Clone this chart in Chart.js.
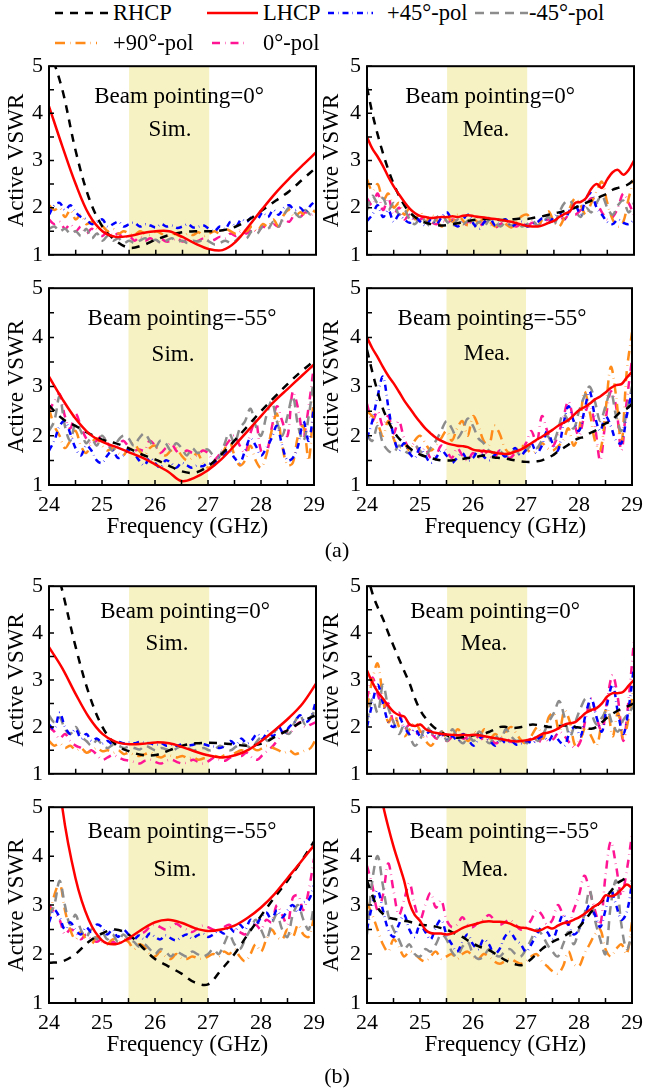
<!DOCTYPE html>
<html>
<head>
<meta charset="utf-8">
<script src="https://cdn.jsdelivr.net/npm/chart.js@4.4.1/dist/chart.umd.min.js"></script>
<style>
  html, body { margin: 0; padding: 0; background: #fff; overflow: hidden; }
  #fig { position: relative; width: 645px; height: 1092px; font-family: 'Liberation Serif', 'Times New Roman', serif; color: #000; }
  #fig canvas { position: absolute; }
  .txt { position: absolute; white-space: nowrap; transform: translate(-50%, -50%); font-size: 23px; line-height: 1; }
  .leg { position: absolute; white-space: nowrap; font-size: 22.5px; line-height: 1; transform: translateY(-50%); }
</style>
</head>
<body>
<div id="fig"></div>
<script>
// ---------- frequency axes ----------
const FREQ = [24,24.1,24.2,24.3,24.4,24.5,24.6,24.7,24.8,24.9,25,25.1,25.2,25.3,25.4,25.5,25.6,25.7,25.8,25.9,26,26.1,26.2,26.3,26.4,26.5,26.6,26.7,26.8,26.9,27,27.1,27.2,27.3,27.4,27.5,27.6,27.7,27.8,27.9,28,28.1,28.2,28.3,28.4,28.5,28.6,28.7,28.8,28.9,29];
const FREQ_SIM = [24,24.25,24.5,24.75,25,25.25,25.5,25.75,26,26.25,26.5,26.75,27,27.25,27.5,27.75,28,28.25,28.5,28.75,29];
const MINOR_X = [24,24.5,25,25.5,26,26.5,27,27.5,28,28.5,29];
const MINOR_Y = [1,1.5,2,2.5,3,3.5,4,4.5,5];
const BAND = [25.5, 27];

// ---------- (a) beam 0°, simulated ----------
const A_SIM0_RHCP = [5.4,4.5,3.2,2.2,1.6,1.3,1.15,1.2,1.32,1.42,1.48,1.5,1.5,1.52,1.6,1.75,1.95,2.15,2.35,2.6,2.85];
const A_SIM0_LHCP = [4.15,3.3,2.5,1.85,1.5,1.38,1.4,1.46,1.5,1.5,1.38,1.23,1.12,1.1,1.28,1.62,1.98,2.32,2.62,2.9,3.17];
const A_SIM0_P45 = [1.85,2.05,2.1,1.95,2.05,1.9,1.8,1.75,1.65,1.7,
  1.75,1.6,1.65,1.7,1.6,1.65,1.68,1.6,1.65,1.62,
  1.58,1.65,1.6,1.62,1.57,1.6,1.65,1.58,1.6,1.62,
  1.55,1.5,1.6,1.55,1.7,1.6,1.75,1.7,1.8,1.75,
  1.9,1.8,1.95,1.85,2.0,2.05,1.95,2.0,1.9,2.05,2.15];
const A_SIM0_M45 = [1.55,1.6,1.5,1.55,1.45,1.5,1.4,1.55,1.35,1.45,
  1.3,1.4,1.3,1.35,1.25,1.3,1.25,1.3,1.35,1.28,
  1.32,1.25,1.3,1.35,1.28,1.3,1.25,1.3,1.28,1.33,
  1.28,1.22,1.25,1.3,1.25,1.3,1.4,1.35,1.5,1.45,
  1.6,1.55,1.7,1.6,1.85,2.0,1.9,1.8,1.95,1.85,1.95];
const A_SIM0_P90 = [2.05,1.95,2.0,1.8,1.95,1.75,1.85,1.65,1.7,1.55,
  1.6,1.5,1.55,1.45,1.5,1.45,1.42,1.5,1.45,1.42,
  1.5,1.45,1.4,1.45,1.42,1.38,1.45,1.42,1.48,1.4,
  1.45,1.5,1.45,1.55,1.5,1.45,1.55,1.5,1.6,1.5,
  1.65,1.6,1.75,1.6,1.85,1.95,1.8,1.9,1.85,1.95,1.9];
const A_SIM0_P0 = [1.75,1.65,1.7,1.55,1.65,1.5,1.6,1.45,1.55,1.45,
  1.4,1.5,1.4,1.45,1.35,1.4,1.3,1.38,1.3,1.35,
  1.28,1.33,1.28,1.3,1.35,1.28,1.32,1.27,1.3,1.35,
  1.3,1.32,1.38,1.35,1.45,1.4,1.5,1.45,1.55,1.48,
  1.6,1.55,1.65,1.6,1.75,1.7,1.85,1.8,1.9,1.85,1.9];

// ---------- (a) beam 0°, measured ----------
const A_MEA0_RHCP = [4.55,4.0,3.55,3.15,2.8,2.5,2.25,2.05,1.9,1.8,
  1.72,1.68,1.65,1.63,1.62,1.63,1.65,1.67,1.7,1.72,
  1.74,1.75,1.76,1.76,1.75,1.74,1.74,1.75,1.76,1.77,
  1.76,1.78,1.8,1.82,1.85,1.88,1.9,1.93,1.97,2.0,
  2.05,2.1,2.15,2.2,2.25,2.3,2.38,2.42,2.45,2.5,2.6];
const A_MEA0_LHCP = [3.5,3.25,3.08,2.88,2.65,2.45,2.28,2.12,1.98,1.88,
  1.82,1.8,1.78,1.79,1.8,1.8,1.82,1.8,1.83,1.84,
  1.82,1.8,1.79,1.77,1.76,1.74,1.72,1.7,1.67,1.64,
  1.61,1.6,1.6,1.63,1.68,1.72,1.8,1.87,1.92,2.1,
  2.12,2.2,2.4,2.5,2.42,2.6,2.75,2.8,2.7,2.8,3.0];
const A_MEA0_P45 = [1.72,1.85,2.05,1.8,1.95,1.7,1.85,1.75,1.68,1.8,
  1.7,1.62,1.75,1.65,1.8,1.9,1.7,1.6,1.75,1.85,
  1.65,1.55,1.7,1.78,1.62,1.7,1.75,1.6,1.66,1.7,
  1.6,1.65,1.7,1.78,1.68,1.8,1.9,1.75,1.95,2.05,
  1.85,2.2,2.3,2.0,1.85,1.7,1.65,1.75,1.68,1.65,1.75];
const A_MEA0_M45 = [1.95,2.25,2.1,2.2,1.95,2.1,1.85,1.95,1.75,1.65,
  1.8,1.7,1.6,1.78,1.85,1.7,1.6,1.75,1.65,1.72,
  1.6,1.7,1.62,1.75,1.68,1.6,1.7,1.62,1.68,1.6,
  1.65,1.72,1.62,1.7,1.8,1.65,1.9,2.1,2.15,1.95,
  1.8,2.0,1.9,2.1,2.25,2.0,1.85,2.05,2.15,1.9,2.1];
const A_MEA0_P90 = [2.6,2.35,2.5,2.15,2.3,2.0,2.1,1.85,2.0,1.75,
  1.9,1.7,1.85,1.75,1.6,1.8,1.7,1.85,1.72,1.62,
  1.75,1.68,1.8,1.7,1.6,1.72,1.65,1.58,1.7,1.82,
  1.85,1.7,1.62,1.78,1.92,1.7,1.6,1.8,2.0,2.2,
  2.05,1.85,2.1,2.35,2.55,2.1,1.75,1.6,1.7,2.2,2.6];
const A_MEA0_P0 = [2.2,2.05,2.3,1.95,2.2,1.85,2.0,1.75,1.85,1.7,
  1.75,1.8,1.7,1.65,1.72,1.68,1.75,1.7,1.62,1.7,
  1.65,1.6,1.7,1.65,1.58,1.65,1.7,1.65,1.6,1.67,
  1.62,1.68,1.65,1.7,1.75,1.7,1.8,1.75,1.9,1.85,
  1.95,2.05,2.2,2.1,1.9,1.75,1.8,2.0,2.3,2.1,1.85];

// ---------- (a) beam -55°, simulated ----------
const A_SIM55_RHCP = [2.62,2.35,2.2,2.05,1.92,1.85,1.75,1.62,1.52,1.4,1.28,1.25,1.38,1.62,1.9,2.2,2.5,2.78,3.05,3.3,3.52];
const A_SIM55_LHCP = [3.2,2.75,2.35,2.05,1.88,1.78,1.67,1.56,1.42,1.27,1.08,1.15,1.3,1.52,1.8,2.1,2.4,2.7,2.95,3.2,3.45];
const A_SIM55_P45 = [1.7,1.9,2.2,2.3,2.05,1.75,1.6,1.8,1.7,1.5,
  1.45,1.6,1.7,1.55,1.6,1.72,1.65,1.5,1.4,1.55,
  1.45,1.35,1.5,1.45,1.35,1.45,1.4,1.35,1.4,1.38,
  1.45,1.4,1.55,1.6,1.7,1.55,1.45,1.7,1.95,1.8,
  1.6,1.75,1.95,2.2,1.8,1.5,1.55,1.8,2.3,1.9,2.6];
const A_SIM55_M45 = [2.1,2.3,2.8,2.2,1.9,2.25,2.1,1.85,1.95,1.8,
  2.0,1.85,1.7,1.9,2.0,1.95,1.8,1.95,2.05,1.9,
  1.75,1.9,1.85,1.7,1.85,1.75,1.6,1.75,1.65,1.7,
  1.72,1.6,1.55,1.8,2.05,1.85,2.15,2.3,2.55,2.2,
  2.0,2.4,2.7,2.3,2.0,2.4,2.8,2.2,1.9,2.4,3.2];
const A_SIM55_P90 = [2.55,2.2,2.0,1.75,1.9,2.1,1.8,1.65,1.85,1.95,
  1.8,1.7,1.75,1.65,1.6,1.75,1.85,1.7,1.6,1.75,
  1.8,1.65,1.6,1.7,1.75,1.6,1.5,1.55,1.65,1.45,
  1.35,1.4,1.5,1.7,1.9,1.6,1.4,1.5,1.8,1.5,
  1.35,1.6,2.1,2.45,1.8,1.4,1.45,2.0,2.2,1.5,2.9];
const A_SIM55_P0 = [2.5,2.7,2.85,2.4,2.15,2.45,2.2,1.95,1.85,1.9,
  2.0,1.85,1.75,1.8,1.9,1.78,1.7,1.72,1.7,1.9,
  1.8,1.65,1.75,1.85,1.7,1.6,1.7,1.65,1.6,1.7,
  1.65,1.5,1.6,1.75,1.9,2.0,1.8,1.65,2.05,2.3,
  1.7,1.65,2.15,2.6,2.3,2.0,2.9,2.55,2.0,2.6,3.45];

// ---------- (a) beam -55°, measured ----------
const A_MEA55_RHCP = [3.75,3.3,2.9,2.55,2.3,2.1,1.95,1.85,1.75,1.68,
  1.62,1.58,1.55,1.52,1.5,1.5,1.5,1.52,1.53,1.55,
  1.56,1.58,1.6,1.58,1.56,1.55,1.54,1.52,1.5,1.48,
  1.47,1.47,1.48,1.5,1.55,1.6,1.68,1.75,1.82,1.9,
  1.95,1.98,2.05,2.1,2.18,2.25,2.3,2.4,2.5,2.55,2.65];
const A_MEA55_LHCP = [4.0,3.78,3.6,3.4,3.22,3.07,2.9,2.72,2.57,2.42,
  2.28,2.15,2.05,1.96,1.9,1.85,1.82,1.8,1.79,1.77,
  1.72,1.7,1.69,1.68,1.66,1.64,1.63,1.64,1.68,1.72,
  1.78,1.85,1.92,1.98,2.05,2.12,2.2,2.26,2.32,2.42,
  2.52,2.58,2.65,2.74,2.8,2.88,2.97,3.03,3.05,3.18,3.3];
const A_MEA55_P45 = [1.95,2.3,2.8,3.2,2.6,2.0,1.7,1.85,1.65,1.55,
  1.75,1.6,1.45,1.55,1.7,1.6,1.45,1.55,1.65,1.5,
  1.55,1.7,1.58,1.5,1.6,1.7,1.58,1.65,1.75,1.6,
  1.72,1.85,1.65,1.8,2.1,1.85,1.7,2.2,2.6,2.3,
  2.1,2.5,2.9,2.4,2.1,2.4,2.2,1.9,1.85,2.4,2.9];
const A_MEA55_M45 = [2.0,1.9,2.2,1.85,1.7,1.65,1.8,1.7,1.65,1.8,
  1.7,1.6,1.75,1.9,2.1,2.3,2.15,1.95,2.1,2.35,
  2.2,1.95,1.85,1.7,1.65,1.7,1.6,1.65,1.7,1.6,
  1.7,1.8,1.75,1.9,2.0,1.85,2.1,2.45,2.3,2.15,
  2.5,2.8,3.0,2.7,2.3,2.6,2.9,2.4,2.1,2.5,3.0];
const A_MEA55_P90 = [2.5,2.4,2.25,2.0,2.3,1.95,1.75,1.85,1.7,1.9,
  2.0,1.85,1.7,1.8,1.95,2.1,1.9,2.15,2.3,2.0,
  2.4,2.2,1.9,1.8,2.2,2.05,1.75,1.65,1.7,1.8,
  1.75,1.65,1.7,1.85,1.75,1.7,1.78,1.9,2.15,1.8,
  2.1,2.9,2.5,1.9,1.7,2.5,3.4,2.8,1.85,3.3,4.1];
const A_MEA55_P0 = [2.65,2.3,2.5,2.2,2.4,2.05,2.3,1.95,1.75,1.85,
  1.65,1.75,1.55,1.6,1.8,1.7,1.55,1.75,1.6,1.5,
  1.65,1.55,1.7,1.6,1.55,1.7,1.6,1.55,1.65,1.7,
  1.85,2.1,1.85,2.4,2.1,1.8,2.0,2.35,2.7,2.3,
  2.0,2.4,2.65,2.2,1.5,2.3,2.9,2.6,1.7,2.7,3.55];

// ---------- (b) beam 0°, simulated ----------
const B_SIM0_RHCP = [6.0,4.9,3.7,2.7,2.0,1.62,1.48,1.4,1.4,1.5,1.6,1.65,1.66,1.65,1.62,1.6,1.65,1.8,1.95,2.12,2.25];
const B_SIM0_LHCP = [3.7,3.25,2.7,2.2,1.85,1.68,1.63,1.64,1.67,1.65,1.57,1.47,1.39,1.35,1.4,1.52,1.72,1.95,2.2,2.5,2.92];
const B_SIM0_P45 = [2.05,1.95,2.3,2.0,1.85,1.95,1.75,1.85,1.7,1.75,
  1.65,1.7,1.62,1.68,1.65,1.67,1.65,1.68,1.66,1.65,
  1.62,1.65,1.6,1.62,1.6,1.63,1.6,1.62,1.65,1.63,
  1.6,1.58,1.55,1.6,1.7,1.62,1.75,1.65,1.72,1.85,
  1.75,1.9,1.8,2.0,1.85,2.0,2.1,2.25,2.1,2.2,2.55];
const B_SIM0_M45 = [2.25,2.1,2.2,1.95,1.85,2.0,1.8,1.7,1.6,1.72,
  1.62,1.55,1.62,1.6,1.55,1.58,1.55,1.52,1.6,1.55,
  1.5,1.55,1.52,1.48,1.55,1.6,1.55,1.5,1.52,1.55,
  1.5,1.52,1.6,1.55,1.5,1.58,1.65,1.6,1.55,1.7,
  1.8,1.7,1.85,2.0,1.9,1.85,2.1,2.25,2.05,2.2,2.4];
const B_SIM0_P90 = [1.7,1.6,1.65,1.55,1.6,1.5,1.55,1.45,1.5,1.55,
  1.48,1.5,1.45,1.5,1.42,1.45,1.4,1.38,1.42,1.45,
  1.38,1.35,1.4,1.38,1.35,1.38,1.33,1.35,1.3,1.33,
  1.35,1.38,1.35,1.4,1.38,1.45,1.5,1.48,1.55,1.5,
  1.55,1.6,1.55,1.5,1.45,1.5,1.42,1.45,1.5,1.55,1.75];
const B_SIM0_P0 = [2.0,1.9,1.75,1.85,1.7,1.6,1.55,1.45,1.5,1.4,
  1.3,1.35,1.4,1.35,1.3,1.28,1.25,1.22,1.28,1.3,
  1.25,1.22,1.28,1.3,1.25,1.22,1.25,1.3,1.25,1.22,
  1.28,1.35,1.3,1.28,1.35,1.4,1.38,1.45,1.35,1.3,
  1.4,1.5,1.6,1.75,1.9,1.85,2.0,2.1,2.0,2.05,2.1];

// ---------- (b) beam 0°, measured ----------
const B_MEA0_RHCP = [5.3,4.85,4.55,4.3,4.0,3.72,3.45,3.18,2.92,2.6,
  2.35,2.18,2.05,1.95,1.88,1.82,1.78,1.77,1.78,1.8,
  1.82,1.84,1.86,1.9,1.95,2.0,2.0,1.98,1.98,2.0,
  2.03,2.05,2.04,2.02,2.0,2.0,2.02,2.03,2.02,2.0,
  1.98,1.97,1.96,2.0,2.1,2.2,2.28,2.35,2.4,2.45,2.5];
const B_MEA0_LHCP = [3.2,2.95,2.75,2.6,2.45,2.32,2.25,2.22,2.05,2.02,
  2.05,1.95,1.9,1.87,1.85,1.84,1.83,1.82,1.83,1.82,
  1.83,1.82,1.8,1.78,1.76,1.74,1.72,1.7,1.69,1.7,
  1.72,1.74,1.8,1.86,1.88,1.92,1.98,2.05,2.08,2.1,
  2.2,2.3,2.36,2.4,2.5,2.65,2.72,2.72,2.75,2.88,3.0];
const B_MEA0_P45 = [2.0,2.5,2.9,2.5,2.1,2.0,2.2,2.0,1.85,1.95,
  1.8,1.85,1.9,1.8,1.85,1.75,1.8,1.7,1.85,1.72,
  1.6,1.75,1.8,1.7,1.6,1.75,1.65,1.7,1.62,1.65,
  1.7,1.65,1.75,1.8,1.7,1.85,1.7,1.6,1.9,2.0,
  1.8,2.3,2.6,2.2,1.9,2.5,2.9,2.3,1.85,2.4,3.3];
const B_MEA0_M45 = [2.1,2.6,2.3,2.9,2.4,2.1,1.85,2.05,1.8,1.6,
  1.75,2.0,1.9,1.75,1.9,1.7,1.95,1.75,1.65,1.8,
  1.7,1.9,1.75,1.65,1.82,1.7,1.95,1.8,1.7,1.75,
  1.65,1.8,1.7,1.85,2.1,2.3,2.55,2.2,1.8,2.1,
  2.4,2.6,2.3,2.05,2.2,2.35,2.05,1.9,2.15,2.3,2.45];
const B_MEA0_P90 = [2.4,3.0,3.35,2.6,2.1,2.3,2.0,1.8,1.95,2.1,
  1.9,1.7,1.6,1.75,1.9,1.75,1.8,1.95,1.8,1.7,
  1.9,1.8,1.95,1.75,1.85,1.78,1.9,2.0,1.85,1.7,
  1.65,1.85,2.0,1.75,2.2,2.3,1.9,2.35,2.1,1.6,
  1.75,2.0,1.8,1.6,2.1,2.4,1.8,2.3,1.75,2.2,2.9];
const B_MEA0_P0 = [2.6,3.05,2.7,2.4,2.5,2.1,2.3,1.95,2.05,1.85,
  1.9,1.8,1.85,1.75,1.8,1.7,1.8,1.85,1.75,1.78,
  1.72,1.8,1.7,1.75,1.65,1.7,1.75,1.68,1.72,1.65,
  1.7,1.75,1.65,1.8,1.7,1.75,1.9,1.8,1.65,1.55,
  1.7,2.2,2.6,2.2,1.9,2.6,3.1,2.6,1.7,2.6,3.85];

// ---------- (b) beam -55°, simulated ----------
const B_SIM55_RHCP = [1.82,1.85,2.0,2.25,2.42,2.5,2.4,2.15,1.9,1.75,1.6,1.42,1.38,1.68,2.0,2.4,2.78,3.15,3.5,3.88,4.3];
const B_SIM55_LHCP = [7.5,5.0,3.55,2.7,2.28,2.2,2.32,2.5,2.65,2.7,2.64,2.53,2.47,2.5,2.58,2.74,2.95,3.22,3.55,3.88,4.22];
const B_SIM55_P45 = [2.65,2.9,2.75,2.5,2.65,2.5,2.4,2.55,2.45,2.6,
  2.55,2.4,2.5,2.35,2.5,2.4,2.3,2.38,2.3,2.42,
  2.35,2.3,2.38,2.32,2.28,2.35,2.4,2.32,2.38,2.42,
  2.35,2.4,2.48,2.42,2.55,2.45,2.6,2.5,2.7,2.6,
  2.75,2.85,2.7,2.9,2.75,2.9,3.0,2.85,3.05,3.1,3.4];
const B_SIM55_M45 = [2.8,3.0,3.5,3.0,2.6,2.8,2.5,2.35,2.5,2.3,
  2.45,2.3,2.4,2.25,2.4,2.3,2.25,2.15,2.2,2.1,
  2.0,2.1,2.05,1.95,2.05,2.0,1.95,2.05,2.0,1.95,
  2.0,2.1,2.0,2.2,2.4,2.2,2.1,2.3,2.5,2.7,
  2.5,2.3,2.6,2.8,2.5,2.35,2.8,3.0,2.7,2.5,3.0];
const B_SIM55_P90 = [2.75,3.2,3.45,2.9,2.5,2.3,2.45,2.3,2.2,2.35,
  2.25,2.2,2.3,2.25,2.3,2.25,2.1,2.2,2.15,2.0,
  1.95,2.05,1.95,1.9,2.0,1.92,1.9,1.95,1.92,1.9,
  1.95,2.0,1.95,2.05,2.0,2.1,1.95,1.85,2.0,2.2,
  2.05,2.3,2.5,2.35,2.3,2.5,2.35,2.6,2.4,2.35,2.75];
const B_SIM55_P0 = [3.0,2.85,2.7,2.4,2.5,2.45,2.3,2.4,2.3,2.25,
  2.3,2.2,2.25,2.2,2.25,2.3,2.35,2.4,2.45,2.55,
  2.6,2.55,2.5,2.55,2.62,2.55,2.5,2.45,2.52,2.58,
  2.55,2.5,2.48,2.55,2.6,2.5,2.45,2.4,2.5,2.6,
  2.5,2.7,2.65,3.0,2.8,2.6,3.15,3.2,2.9,3.3,3.95];

// ---------- (b) beam -55°, measured ----------
const B_MEA55_RHCP = [3.5,3.2,2.95,2.82,2.75,2.72,2.7,2.68,2.66,2.63,
  2.6,2.59,2.58,2.56,2.53,2.5,2.45,2.4,2.35,2.28,
  2.22,2.16,2.12,2.08,2.02,1.95,1.88,1.83,1.79,1.77,
  1.82,1.9,2.0,2.1,2.18,2.25,2.3,2.35,2.42,2.48,
  2.55,2.68,2.82,2.95,3.05,3.15,3.28,3.42,3.5,3.55,3.5];
const B_MEA55_LHCP = [7.0,6.3,5.6,5.05,4.6,4.2,3.85,3.5,3.05,2.8,
  2.68,2.5,2.43,2.42,2.42,2.4,2.42,2.47,2.53,2.57,
  2.6,2.63,2.66,2.67,2.66,2.66,2.65,2.62,2.57,2.54,
  2.53,2.5,2.47,2.5,2.55,2.52,2.58,2.63,2.65,2.7,
  2.75,2.82,2.9,2.98,3.05,3.2,3.18,3.22,3.32,3.42,3.35];
const B_MEA55_P45 = [2.5,3.0,3.3,2.9,2.5,2.35,2.6,2.8,2.5,2.35,
  2.6,2.45,2.3,2.55,2.7,2.4,2.2,2.05,2.25,2.4,
  2.2,2.1,2.3,2.2,2.0,2.1,2.35,2.45,2.3,2.2,
  2.05,2.2,2.4,2.55,2.45,2.3,2.55,2.8,2.6,2.4,
  2.5,2.75,3.0,2.8,2.55,2.9,3.3,3.0,2.7,2.85,3.45];
const B_MEA55_M45 = [2.4,3.5,4.0,3.4,2.8,2.5,2.3,2.1,2.2,2.0,
  1.95,2.1,2.05,2.2,2.4,2.3,2.05,1.95,2.15,2.25,
  2.0,1.9,1.95,2.1,2.0,1.95,2.05,2.1,2.0,1.95,
  2.1,2.3,2.5,2.4,2.2,2.05,1.95,2.2,2.45,2.2,
  2.5,2.8,3.3,2.7,2.3,2.0,3.0,3.5,2.6,2.1,2.4];
const B_MEA55_P90 = [3.05,2.8,2.5,2.2,2.05,2.3,2.15,1.95,2.05,2.0,
  1.9,1.85,1.95,2.05,1.9,1.95,2.0,1.9,2.0,2.05,
  1.95,1.9,2.0,1.95,1.85,1.8,1.85,1.9,1.85,1.8,
  1.85,1.95,2.0,1.85,1.75,1.65,1.6,1.75,2.05,1.8,
  1.75,2.0,2.2,2.4,2.5,2.1,1.95,2.1,2.2,2.0,2.65];
const B_MEA55_P0 = [3.8,3.4,2.9,3.2,3.85,3.3,2.8,3.1,3.45,3.0,
  2.7,3.0,3.25,2.95,3.1,2.7,2.55,2.6,2.75,2.6,
  2.55,2.65,2.7,2.8,2.7,2.6,2.65,2.7,2.6,2.5,
  2.55,2.7,2.9,2.8,2.6,2.7,3.0,2.8,2.6,2.9,
  3.2,3.6,3.3,2.9,2.6,3.6,4.3,3.8,3.2,3.7,4.45];

// ---------- styles (drawing order: first = on top) ----------
const FONT = "'Liberation Serif', 'Times New Roman', serif";
const BAND_COLOR = '#f6f2c4';
const STYLES = [
  { label: 'LHCP',     color: '#ff0000', dash: [] },
  { label: 'RHCP',     color: '#000000', dash: [8, 7] },
  { label: '+45°-pol', color: '#0000ff', dash: [6, 4, 0.5, 4] },
  { label: '-45°-pol', color: '#8c8c8c', dash: [9, 6] },
  { label: '+90°-pol', color: '#ff8c1a', dash: [10, 5, 0.5, 5] },
  { label: '0°-pol',   color: '#ff1493', dash: [8, 5, 0.5, 5] },
];

const PANELS = [
  { L: 49,  T: 63,  H: 195, xLab: false, beam: 'Beam pointing=0°',   kind: 'Sim.', pos: [130, 32, 121, 65], cx: FREQ_SIM,
    ys: [A_SIM0_LHCP, A_SIM0_RHCP, A_SIM0_P45, A_SIM0_M45, A_SIM0_P90, A_SIM0_P0] },
  { L: 367, T: 63,  H: 195, xLab: false, beam: 'Beam pointing=0°',   kind: 'Mea.', pos: [123, 32, 119, 65], cx: FREQ,
    ys: [A_MEA0_LHCP, A_MEA0_RHCP, A_MEA0_P45, A_MEA0_M45, A_MEA0_P90, A_MEA0_P0] },
  { L: 49,  T: 285, H: 200, xLab: true,  beam: 'Beam pointing=-55°', kind: 'Sim.', pos: [133, 32, 124, 68], cx: FREQ_SIM,
    ys: [A_SIM55_LHCP, A_SIM55_RHCP, A_SIM55_P45, A_SIM55_M45, A_SIM55_P90, A_SIM55_P0] },
  { L: 367, T: 285, H: 200, xLab: true,  beam: 'Beam pointing=-55°', kind: 'Mea.', pos: [125, 32, 120, 67], cx: FREQ,
    ys: [A_MEA55_LHCP, A_MEA55_RHCP, A_MEA55_P45, A_MEA55_M45, A_MEA55_P90, A_MEA55_P0] },
  { L: 49,  T: 583, H: 194, xLab: false, beam: 'Beam pointing=0°',   kind: 'Sim.', pos: [136, 27, 118, 59], cx: FREQ_SIM,
    ys: [B_SIM0_LHCP, B_SIM0_RHCP, B_SIM0_P45, B_SIM0_M45, B_SIM0_P90, B_SIM0_P0] },
  { L: 367, T: 583, H: 194, xLab: false, beam: 'Beam pointing=0°',   kind: 'Mea.', pos: [128, 27, 117, 59], cx: FREQ,
    ys: [B_MEA0_LHCP, B_MEA0_RHCP, B_MEA0_P45, B_MEA0_M45, B_MEA0_P90, B_MEA0_P0] },
  { L: 49,  T: 804, H: 199, xLab: true,  beam: 'Beam pointing=-55°', kind: 'Sim.', pos: [133, 26, 126, 64], cx: FREQ_SIM,
    ys: [B_SIM55_LHCP, B_SIM55_RHCP, B_SIM55_P45, B_SIM55_M45, B_SIM55_P90, B_SIM55_P0] },
  { L: 367, T: 804, H: 199, xLab: true,  beam: 'Beam pointing=-55°', kind: 'Mea.', pos: [137, 26, 118, 64], cx: FREQ,
    ys: [B_MEA55_LHCP, B_MEA55_RHCP, B_MEA55_P45, B_MEA55_M45, B_MEA55_P90, B_MEA55_P0] },
];

const LEGEND = [
  { s: 1, x: 55,  w: 53, tx: 113, row: 0 },
  { s: 0, x: 207, w: 51, tx: 263, row: 0 },
  { s: 2, x: 328, w: 45, tx: 387, row: 0 },
  { s: 3, x: 475, w: 53, tx: 529, row: 0 },
  { s: 4, x: 55,  w: 42, tx: 113, row: 1 },
  { s: 5, x: 212, w: 36, tx: 263, row: 1 },
];
const LEGEND_ROWS = [13, 43];

const fig = document.getElementById('fig');
const AXIS_W = 49, PAD_T = 16, PAD_R = 16, PLOT_W = 267;

// band behind the curves, frame + inward ticks on top
const framePlugin = {
  id: 'frame',
  beforeDatasetsDraw(chart) {
    const { ctx, chartArea: a, scales: { x } } = chart;
    const x0 = x.getPixelForValue(BAND[0]), x1 = x.getPixelForValue(BAND[1]);
    ctx.save();
    ctx.fillStyle = BAND_COLOR;
    ctx.fillRect(x0, a.top, x1 - x0, a.bottom - a.top);
    ctx.restore();
  },
  afterDatasetsDraw(chart) {
    const { ctx, chartArea: a, scales: { x, y } } = chart;
    ctx.save();
    ctx.strokeStyle = '#000';
    ctx.lineWidth = 1.5;
    ctx.beginPath();
    MINOR_X.forEach(v => { const px = x.getPixelForValue(v); ctx.moveTo(px, a.bottom); ctx.lineTo(px, a.bottom - 5); });
    MINOR_Y.forEach(v => { const py = y.getPixelForValue(v); ctx.moveTo(a.left, py); ctx.lineTo(a.left + 5, py); });
    ctx.stroke();
    ctx.lineWidth = 2;
    ctx.strokeRect(a.left, a.top, a.right - a.left, a.bottom - a.top);
    ctx.restore();
  }
};

function addText(cls, text, left, top) {
  const d = document.createElement('div');
  d.className = cls;
  d.textContent = text;
  d.style.left = left + 'px';
  d.style.top = top + 'px';
  fig.appendChild(d);
  return d;
}

function makePanel(p) {
  const xH = p.xLab ? 56 : 16;
  const w = AXIS_W + PLOT_W + PAD_R, h = PAD_T + p.H + xH;
  const cv = document.createElement('canvas');
  cv.width = w; cv.height = h;
  cv.style.left = (p.L - AXIS_W) + 'px';
  cv.style.top = (p.T - PAD_T) + 'px';
  cv.style.width = w + 'px';
  cv.style.height = h + 'px';
  fig.appendChild(cv);

  const datasets = STYLES.map((st, i) => {
    const xs = i < 2 ? p.cx : FREQ;
    return {
      label: st.label,
      data: xs.map((x, k) => ({ x, y: p.ys[i][k] })),
      borderColor: st.color,
      borderDash: st.dash,
      borderWidth: 2.5,
      tension: 0.35,
      pointRadius: 0,
      fill: false
    };
  });

  new Chart(cv, {
    type: 'line',
    data: { datasets },
    options: {
      responsive: false, animation: false, devicePixelRatio: 1,
      layout: { padding: { top: PAD_T, right: PAD_R, left: 0, bottom: 0 } },
      plugins: { legend: { display: false }, tooltip: { enabled: false } },
      scales: {
        x: {
          type: 'linear', min: 24, max: 29,
          grid: { display: false, drawTicks: false }, border: { display: false },
          ticks: { display: p.xLab, stepSize: 1, padding: 7, color: '#000', maxRotation: 0, font: { family: FONT, size: 22 } },
          title: { display: p.xLab, text: '\u2002Frequency (GHz)', color: '#000', padding: 0, font: { family: FONT, size: 23 } },
          afterFit: s => { s.height = xH; }
        },
        y: {
          min: 1, max: 5,
          grid: { display: false, drawTicks: false }, border: { display: false },
          ticks: { stepSize: 1, padding: 6, color: '#000', font: { family: FONT, size: 22 } },
          title: { display: true, text: 'Active VSWR', color: '#000', padding: { top: p.L < 100 ? 3 : 0, bottom: 0 }, font: { family: FONT, size: 23 } },
          afterFit: s => { s.width = AXIS_W; }
        }
      }
    },
    plugins: [framePlugin]
  });

  addText('txt', p.beam, p.L + p.pos[0], p.T + p.pos[1]);
  addText('txt', p.kind, p.L + p.pos[2], p.T + p.pos[3]);
}

PANELS.forEach(makePanel);

addText('txt', '(a)', 337, 550).style.fontSize = '22px';
addText('txt', '(b)', 337, 1076).style.fontSize = '22px';

// legend: line sample + label
LEGEND.forEach(item => {
  const st = STYLES[item.s];
  const cy = LEGEND_ROWS[item.row];
  const ns = 'http://www.w3.org/2000/svg';
  const svg = document.createElementNS(ns, 'svg');
  svg.setAttribute('width', item.w);
  svg.setAttribute('height', 10);
  svg.style.position = 'absolute';
  svg.style.left = item.x + 'px';
  svg.style.top = (cy - 5) + 'px';
  const ln = document.createElementNS(ns, 'line');
  ln.setAttribute('x1', 0); ln.setAttribute('x2', item.w);
  ln.setAttribute('y1', 5); ln.setAttribute('y2', 5);
  ln.setAttribute('stroke', st.color);
  ln.setAttribute('stroke-width', 2.5);
  if (st.dash.length) ln.setAttribute('stroke-dasharray', st.dash.join(' '));
  svg.appendChild(ln);
  fig.appendChild(svg);
  addText('leg', st.label, item.tx, cy);
});
</script>
</body>
</html>
